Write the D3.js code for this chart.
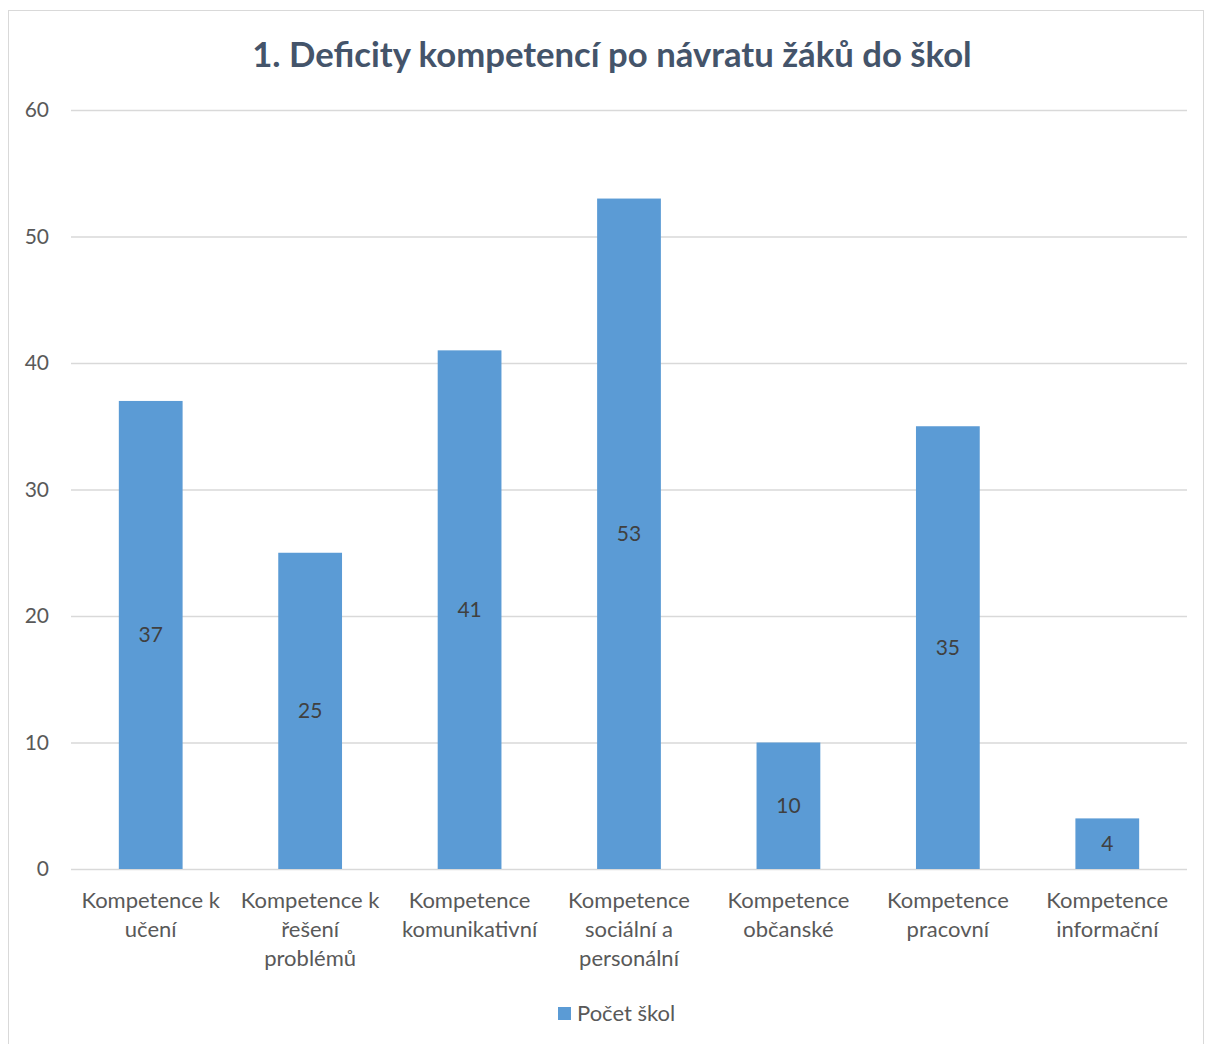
<!DOCTYPE html>
<meta charset="utf-8">
<style>
    body { margin: 0; background: #fff; }
    text { font-family: Lato, "Open Sans", sans-serif; }
</style>
<body>
<div id="main"></div>
<script src="https://d3js.org/d3.v7.min.js"></script>
<script>
// data
var categories = [
    ["Kompetence k", "učení"],
    ["Kompetence k", "řešení", "problémů"],
    ["Kompetence", "komunikativní"],
    ["Kompetence", "sociální a", "personální"],
    ["Kompetence", "občanské"],
    ["Kompetence", "pracovní"],
    ["Kompetence", "informační"]
];
var values = [37, 25, 41, 53, 10, 35, 4];
var yTicks = [0, 10, 20, 30, 40, 50, 60];
var seriesName = "Počet škol";
var title = "1. Deficity kompetencí po návratu žáků do škol";

var W = 1205, H = 1044;
var margin = {top: 110, right: 18, bottom: 175, left: 71};

var svg = d3.select("#main").append("svg")
    .attr("width", W)
    .attr("height", H);

// chart border
svg.append("rect")
    .attr("x", 8.5).attr("y", 10.5)
    .attr("width", 1195).attr("height", 1040)
    .attr("fill", "#fff")
    .attr("stroke", "#d9d9d9");

var x = d3.scaleBand()
    .domain(d3.range(categories.length))
    .range([margin.left, W - margin.right])
    .paddingInner(0.6)
    .paddingOuter(0.3);

var y = d3.scaleLinear()
    .domain([0, 60])
    .range([H - margin.bottom, margin.top]);

svg.append("text")
    .attr("x", 612)
    .attr("y", 67)
    .attr("text-anchor", "middle")
    .attr("font-size", 34.7)
    .attr("font-weight", "bold")
    .attr("fill", "#44546a")
    .text(title);

// gridlines + y axis labels
var yAxis = d3.axisLeft(y).tickValues(yTicks).tickSize(-(W - margin.right - margin.left)).tickPadding(22);
var gy = svg.append("g")
    .attr("transform", "translate(" + margin.left + ",0)")
    .call(yAxis);
gy.select(".domain").remove();
gy.selectAll("line").attr("stroke", "#d9d9d9").attr("stroke-width", 1.5);
gy.selectAll("text")
    .attr("font-size", 21)
    .attr("fill", "#595959")
    .attr("font-family", "Lato, 'Open Sans', sans-serif");

svg.selectAll("rect.bar")
    .data(values)
    .enter().append("rect")
    .attr("class", "bar")
    .attr("x", function(d, i) { return x(i); })
    .attr("y", function(d) { return y(d); })
    .attr("width", x.bandwidth())
    .attr("height", function(d) { return y(0) - y(d); })
    .attr("fill", "#5b9bd5");

svg.selectAll("text.val")
    .data(values)
    .enter().append("text")
    .attr("class", "val")
    .attr("x", function(d, i) { return x(i) + x.bandwidth() / 2; })
    .attr("y", function(d) { return y(d / 2); })
    .attr("dy", "0.35em")
    .attr("text-anchor", "middle")
    .attr("font-size", 21)
    .attr("fill", "#404040")
    .text(function(d) { return d; });

// category labels
var cat = svg.selectAll("text.cat")
    .data(categories)
    .enter().append("text")
    .attr("class", "cat")
    .attr("text-anchor", "middle")
    .attr("font-size", 22)
    .attr("fill", "#595959");
cat.selectAll("tspan")
    .data(function(d, i) { return d.map(function(s) { return {s: s, i: i}; }); })
    .enter().append("tspan")
    .attr("x", function(d) { return x(d.i) + x.bandwidth() / 2; })
    .attr("y", function(d, j) { return y(0) + 39 + j * 29; })
    .text(function(d) { return d.s; });

// legend
var lg = svg.append("g").attr("transform", "translate(558,1007)");
lg.append("rect").attr("width", 13).attr("height", 13).attr("fill", "#5b9bd5");
lg.append("text")
    .attr("x", 19).attr("y", 6.5).attr("dy", "0.35em")
    .attr("font-size", 22)
    .attr("fill", "#595959")
    .text(seriesName);
</script>
</body>
